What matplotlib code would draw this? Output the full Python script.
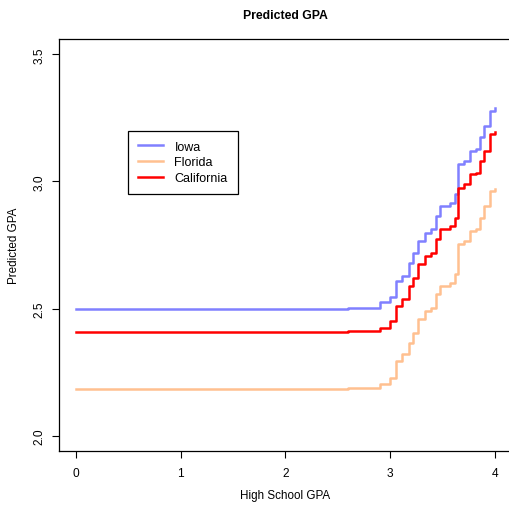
import matplotlib
matplotlib.use('Agg')
import matplotlib.pyplot as plt

plt.rcParams['font.family'] = ['Liberation Sans', 'DejaVu Sans']

# step breakpoints (high school GPA) and predicted GPA per state
hs_gpa = [0.0, 2.60, 2.90, 3.00, 3.06, 3.11, 3.18, 3.22, 3.27, 3.33, 3.39,
          3.44, 3.48, 3.57, 3.62, 3.65, 3.71, 3.76, 3.82, 3.86, 3.90, 3.95, 4.0]
iowa = [2.498, 2.504, 2.524, 2.545, 2.609, 2.628, 2.681, 2.720, 2.766, 2.799,
        2.812, 2.865, 2.904, 2.917, 2.950, 3.068, 3.081, 3.120, 3.127, 3.173,
        3.219, 3.278, 3.287]
florida = [2.183, 2.187, 2.202, 2.228, 2.294, 2.320, 2.366, 2.405, 2.458,
           2.490, 2.504, 2.556, 2.589, 2.602, 2.635, 2.753, 2.766, 2.805,
           2.812, 2.858, 2.904, 2.963, 2.972]
california = [2.406, 2.410, 2.425, 2.451, 2.510, 2.537, 2.589, 2.622, 2.674,
              2.707, 2.720, 2.773, 2.812, 2.825, 2.858, 2.976, 2.989, 3.029,
              3.035, 3.081, 3.120, 3.186, 3.195]

states = ['Iowa', 'Florida', 'California']
colors = ['#8080FF', '#FFC090', '#FF0000']

fig = plt.figure(figsize=(5.10, 5.06), dpi=100)
ax = fig.add_axes([59 / 510, 1 - 452 / 506, 452.6 / 510, 412 / 506])

for vals, name, col in zip([iowa, florida, california], states, colors):
    ax.plot(hs_gpa, vals, drawstyle='steps-post', color=col, lw=1.8, label=name)

ax.set_xlim(-0.16, 4.16)
ax.set_ylim(1.94, 3.56)
ax.set_xticks([0, 1, 2, 3, 4])
ax.set_yticks([2.0, 2.5, 3.0, 3.5])
ax.set_yticklabels(['2.0', '2.5', '3.0', '3.5'], rotation=90, va='center')
ax.tick_params(labelsize=8.6, length=5, width=0.8, pad=6.5)
ax.tick_params(axis='y', pad=4.5)
for s in ax.spines.values():
    s.set_linewidth(0.9)

ax.set_title('Predicted GPA', fontsize=8.8, fontweight='bold', pad=15)
ax.set_xlabel('High School GPA', fontsize=8.4, labelpad=7)
ax.set_ylabel('Predicted GPA', fontsize=8.4, labelpad=10)

leg = ax.legend(loc='upper left', bbox_to_anchor=(0.5, 3.2),
                bbox_transform=ax.transData, borderaxespad=0,
                fancybox=False, edgecolor='black', framealpha=1,
                fontsize=9, handlelength=2.0, handletextpad=0.9,
                labelspacing=0.3, borderpad=0.8)
leg.get_frame().set_linewidth(0.9)

fig.savefig('out.png', dpi=100)
